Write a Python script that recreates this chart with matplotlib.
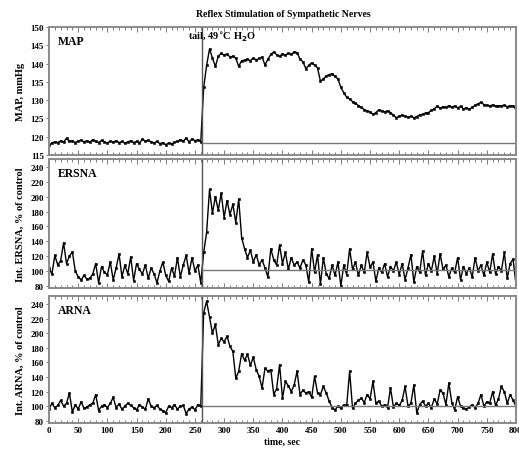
import numpy as np
import matplotlib
matplotlib.use('Agg')
import matplotlib.pyplot as plt
from matplotlib.ticker import MultipleLocator

plt.rcParams['font.family'] = ['Liberation Serif', 'DejaVu Serif']
plt.rcParams['font.weight'] = 'bold'

# time grid, sec
t = np.arange(0, 805, 5)
stim_t = 262

map_mmhg = [
    117.6, 118.3, 118.6, 118.4, 118.9, 118.5, 119.6, 118.7, 118.9, 118.4,
    118.8, 119.1, 118.6, 118.9, 118.5, 119.2, 118.7, 118.4, 119.0, 118.6,
    118.3, 118.8, 118.5, 118.9, 118.4, 118.7, 118.2, 118.6, 118.9, 118.4,
    118.7, 118.3, 119.3, 118.8, 119.0, 118.6, 118.3, 118.7, 118.1, 118.4,
    117.8, 118.3, 118.0, 118.5, 118.7, 119.2, 118.8, 119.6, 118.6, 119.4,
    118.9, 119.2, 118.6,
    133.5, 139.5, 144.0, 141.5, 139.2, 142.0, 142.8, 142.3, 142.6, 141.8,
    142.0, 141.5, 139.2, 140.8, 140.9, 141.2, 140.8, 141.5, 141.0, 141.4,
    141.8, 139.6, 141.2, 142.5, 143.2, 142.4, 142.0, 142.6, 142.3, 142.8,
    142.5, 143.2, 143.0, 141.2, 140.5, 138.6, 139.5, 140.2, 139.6, 138.8,
    135.2, 135.8, 136.6, 137.0, 137.2, 136.5, 135.8, 133.5, 132.0, 130.8,
    130.3, 129.6, 129.2, 128.5, 128.0, 127.4, 127.0, 126.8, 126.1, 126.6,
    127.4, 127.0, 126.8, 127.1, 126.6, 125.9, 125.2, 125.6, 125.9, 125.6,
    125.3, 125.6, 125.2, 125.5, 126.0, 126.1, 126.5, 126.6, 127.2, 127.6,
    128.4, 127.8, 128.2, 128.0, 128.5, 128.1, 128.4, 127.9, 128.3, 127.6,
    127.9, 127.5, 128.0, 128.6, 129.0, 129.4, 128.8, 128.6, 128.4, 128.7,
    128.3, 128.5, 128.4, 128.6, 128.2, 128.5, 128.4, 127.5,
]

ersna = [
    104, 96, 121, 108, 114, 138, 110, 120, 126, 100,
    92, 88, 94, 89, 90, 96, 110, 84, 106, 98,
    95, 112, 88, 104, 123, 92, 108, 96, 119, 87,
    110, 102, 96, 108, 90, 104, 96, 84, 100, 112,
    94, 86, 104, 93, 118, 92, 108, 121, 97, 118,
    100, 108, 84,
    125, 152, 210, 178, 200, 182, 205, 172, 195, 176,
    190, 165, 197, 145, 130, 118, 128, 112, 122, 108,
    115, 104, 92, 130, 115, 108, 135, 110, 125, 102,
    118, 108, 112, 104, 115, 108, 85, 130, 98, 122,
    82, 118, 96, 90, 108, 94, 112, 80, 108, 95,
    130, 102, 112, 94, 108, 98, 125, 105, 112, 86,
    104, 98, 110, 92, 106, 100, 112, 95, 110, 88,
    104, 122, 85, 106, 98, 127, 94, 110, 100, 120,
    96, 123, 102, 108, 92, 104, 98, 118, 88, 106,
    96, 104, 92, 118, 100, 108, 94, 112, 98, 123,
    96, 106, 100, 125, 90, 110, 116, 82,
]

arna = [
    96, 104, 98, 101, 108, 100, 104, 118, 92, 102,
    96, 106, 97, 99, 102, 104, 116, 94, 100, 102,
    98, 104, 112, 98, 103, 96, 100, 104, 101, 98,
    95, 102, 99, 96, 110, 100, 98, 101, 96, 94,
    91, 100, 98, 102, 96, 100, 101, 90, 96, 99,
    95, 102, 100,
    228, 244, 222, 200, 212, 184, 193, 188, 196, 182,
    175, 138, 148, 172, 163, 171, 156, 167, 150, 141,
    125, 152, 148, 150, 116, 124, 157, 111, 134, 128,
    120, 129, 148, 116, 122, 118, 120, 112, 141, 118,
    116, 127, 118, 107, 98, 95, 100, 97, 102, 101,
    148, 97, 104, 108, 111, 105, 116, 110, 134, 104,
    107, 100, 102, 98, 125, 99, 104, 101, 108, 127,
    100, 104, 129, 91, 102, 107, 100, 104, 98, 110,
    103, 122, 118, 102, 132, 105, 95, 113, 100, 97,
    96, 99, 102, 98, 104, 116, 100, 106, 104, 120,
    101, 110, 127, 120, 104, 116, 108, 100,
]

panels = [
    ('MAP', map_mmhg, 'MAP, mmHg', (115, 150), 5, 118.4),
    ('ERSNA', ersna, 'Int. ERSNA, % of control', (77, 251), 20, 101),
    ('ARNA', arna, 'Int. ARNA, % of control', (77, 251), 20, 100.5),
]
boxes = [(0.6579, 0.9386), (0.3662, 0.6491), (0.0702, 0.3487)]

fig = plt.figure(figsize=(5.19, 4.56), dpi=100)
left, right = 0.0944, 0.9942
frame_c = '#8a8a8a'

axes = []
for (name, vals, ylab, ylim, ystep, ref), (b, tp) in zip(panels, boxes):
    ax = fig.add_axes([left, b, right - left, tp - b])
    ax.plot(t, vals, color='black', lw=1.0, marker='s', ms=1.8, mew=0.4)
    ax.axvline(stim_t, color='#555555', lw=1.0)
    ax.hlines(ref, stim_t, 800, color='#777777', lw=1.0)
    ax.set_xlim(0, 800)
    ax.set_ylim(*ylim)
    ax.yaxis.set_major_locator(MultipleLocator(ystep))
    if ystep == 20:
        ax.set_yticks(np.arange(80, 241, 20))
    ax.xaxis.set_major_locator(MultipleLocator(50))
    ax.xaxis.set_minor_locator(MultipleLocator(10))
    ax.tick_params(axis='x', which='both', direction='in', top=True,
                   color='#666666', width=0.6)
    ax.tick_params(axis='x', which='major', length=3.5)
    ax.tick_params(axis='x', which='minor', length=2)
    ax.tick_params(axis='y', direction='out', length=2, width=0.6,
                   labelsize=6.5, pad=1.5, color='#666666')
    for sp in ax.spines.values():
        sp.set_color(frame_c)
        sp.set_linewidth(1.4)
    ax.set_ylabel(ylab, fontsize=7.5, fontweight='bold', labelpad=4)
    ax.text(0.018, 0.94, name, transform=ax.transAxes, fontsize=8.5,
            fontweight='bold', ha='left', va='top')
    axes.append(ax)

for ax in axes[:-1]:
    ax.tick_params(axis='x', labelbottom=False)
axes[-1].tick_params(axis='x', labelsize=6.5, pad=2)
axes[-1].set_xlabel('time, sec', fontsize=7, fontweight='bold', labelpad=2)

axes[0].text(296, 149.3, 'tail, 49$^{\\circ}$C H$_2$O', fontsize=7.5,
             fontweight='bold', ha='center', va='top')

fig.text(0.545, 0.968, 'Reflex Stimulation of Sympathetic Nerves',
         fontsize=7, fontweight='bold', ha='center', va='center')

fig.align_ylabels(axes)
fig.savefig('out.png', dpi=100)
